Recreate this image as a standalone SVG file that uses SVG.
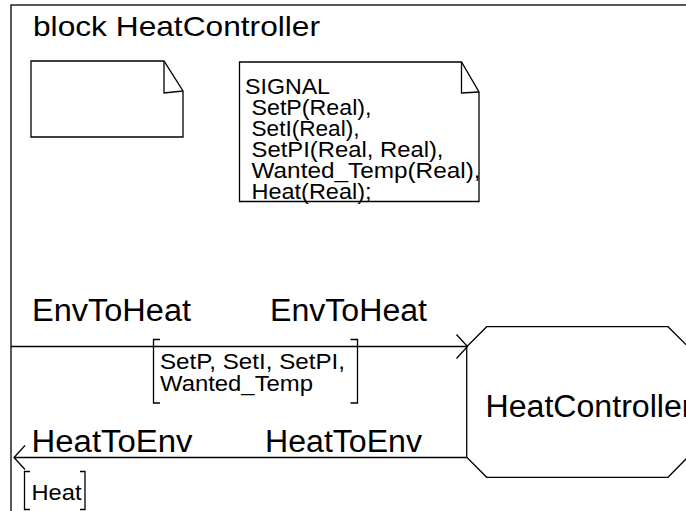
<svg xmlns="http://www.w3.org/2000/svg" width="686" height="511" viewBox="0 0 686 511">
<style>
.ln{fill:none;stroke:#000;stroke-width:1.3}
.sh{fill:#fff;stroke:#000;stroke-width:1.3}
text{font-family:"Liberation Sans",Arial,sans-serif;fill:#000}
.big{font-size:31px}
.sig{font-size:22px}
.lab{font-size:22px}
</style>
<defs>
<marker id="open" markerUnits="userSpaceOnUse" viewBox="-13 -14 15 28" markerWidth="15" markerHeight="28" refX="0" refY="0" orient="auto">
<path d="M-11,-12 L0,0 L-11,12" fill="none" stroke="#000" stroke-width="1.3"/>
</marker>
</defs>
<rect width="686" height="511" fill="#fff"/>
<g id="frame">
<rect class="ln" x="11" y="5" width="700" height="530"/>
<text x="33" y="36" font-size="28" textLength="287" lengthAdjust="spacingAndGlyphs">block HeatController</text>
</g>
<g id="note-blank">
<path class="sh" d="M31,61 L164,61 L183,91 L183,137 L31,137 Z"/>
<path class="ln" d="M164,61 L164,93 L183,91"/>
</g>
<g id="note-signal">
<path class="sh" d="M239.5,62 L461.5,62 L479,92 L479,201.5 L239.5,201.5 Z"/>
<path class="ln" d="M461.5,62 L461.5,93 L479,92"/>
<text class="sig" x="245" y="94" textLength="85" lengthAdjust="spacingAndGlyphs">SIGNAL</text>
<text class="sig" x="251.5" y="115" textLength="120" lengthAdjust="spacingAndGlyphs">SetP(Real),</text>
<text class="sig" x="251.5" y="136" textLength="108" lengthAdjust="spacingAndGlyphs">SetI(Real),</text>
<text class="sig" x="251.5" y="157" textLength="192" lengthAdjust="spacingAndGlyphs">SetPI(Real, Real),</text>
<text class="sig" x="251.5" y="178" textLength="229" lengthAdjust="spacingAndGlyphs">Wanted_Temp(Real),</text>
<text class="sig" x="251.5" y="199" textLength="120" lengthAdjust="spacingAndGlyphs">Heat(Real);</text>
</g>
<g id="HeatController">
<path class="sh" d="M486.7,326.7 L668,326.7 L688,346.7 L688,457 L668,477.3 L486.7,477.3 L466.7,457.3 L466.7,346.7 Z"/>
<text class="big" x="485.5" y="416.5" textLength="207" lengthAdjust="spacingAndGlyphs">HeatController</text>
</g>
<g id="connectors">
<g id="EnvToHeat">
<line class="ln" x1="11" y1="346.5" x2="467.5" y2="346.5" marker-end="url(#open)"/>
<text class="big" x="32" y="321" textLength="159" lengthAdjust="spacingAndGlyphs">EnvToHeat</text>
<text class="big" x="270" y="321" textLength="157" lengthAdjust="spacingAndGlyphs">EnvToHeat</text>
<path class="ln" d="M160,339.5 L153.5,339.5 L153.5,403 L160,403"/>
<path class="ln" d="M350.5,339.5 L357.5,339.5 L357.5,403 L350.5,403"/>
<text class="lab" x="160" y="368.5" textLength="185" lengthAdjust="spacingAndGlyphs">SetP, SetI, SetPI,</text>
<text class="lab" x="160" y="390.5" textLength="153" lengthAdjust="spacingAndGlyphs">Wanted_Temp</text>
</g>
<g id="HeatToEnv">
<line class="ln" x1="466.7" y1="457.5" x2="14" y2="457.5" marker-end="url(#open)"/>
<text class="big" x="31.5" y="451.5" textLength="161" lengthAdjust="spacingAndGlyphs">HeatToEnv</text>
<text class="big" x="265" y="451.5" textLength="157" lengthAdjust="spacingAndGlyphs">HeatToEnv</text>
<path class="ln" d="M30,471.5 L24.5,471.5 L24.5,509.5 L30,509.5"/>
<path class="ln" d="M80,471.5 L85,471.5 L85,509.5 L80,509.5"/>
<text class="lab" x="31.5" y="500" textLength="50" lengthAdjust="spacingAndGlyphs">Heat</text>
</g>
</g>
</svg>
